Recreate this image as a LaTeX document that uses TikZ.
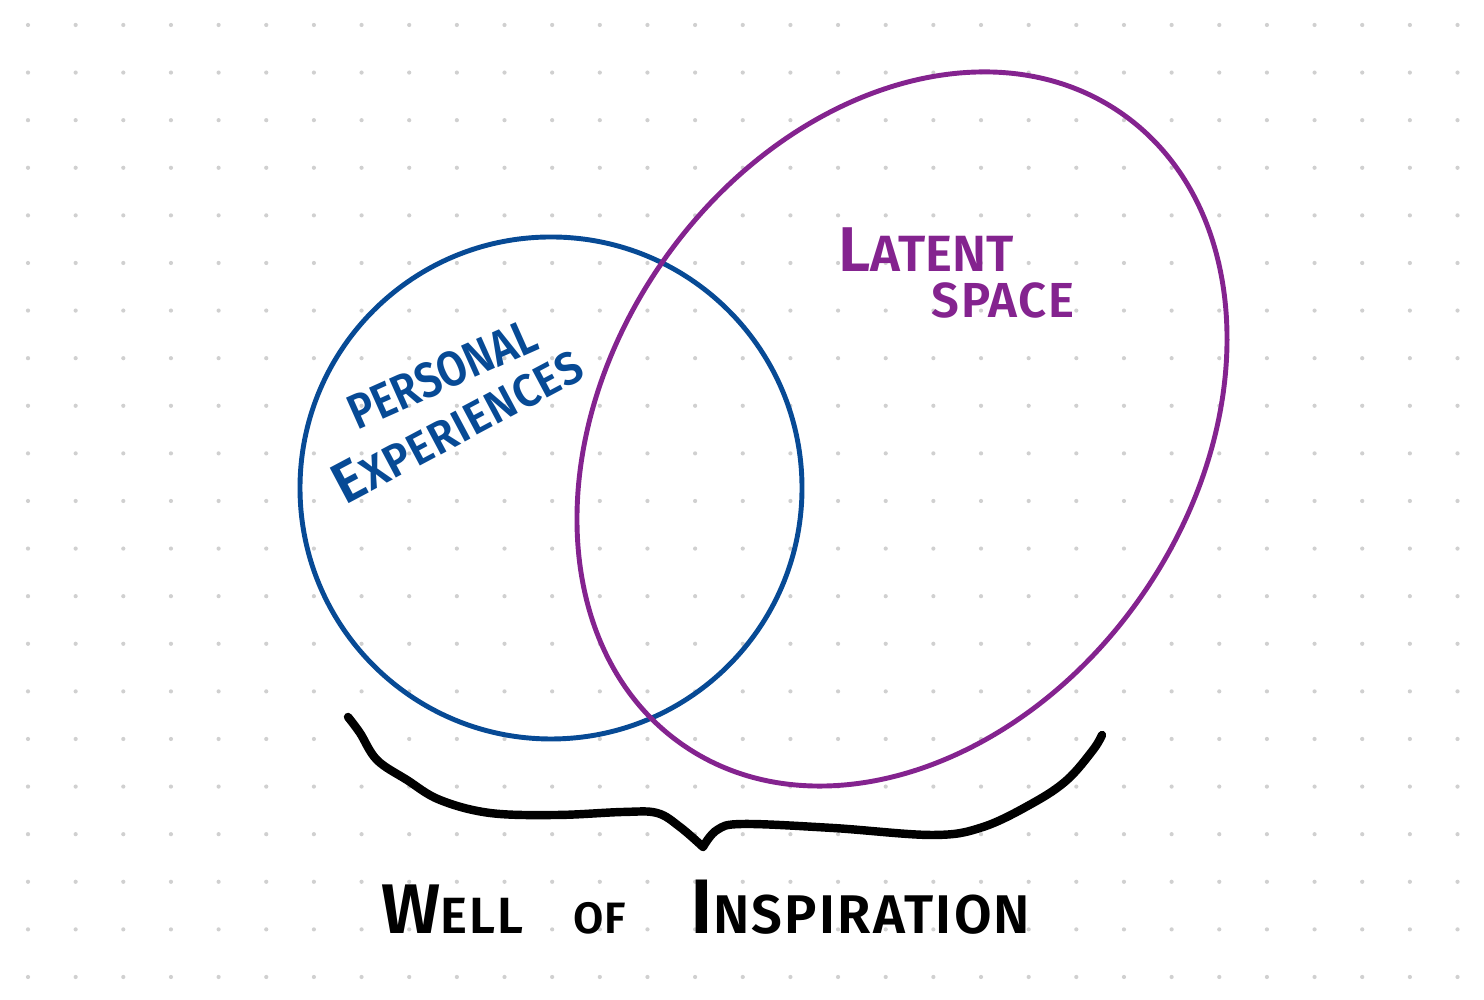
\documentclass[tikz,border=0pt]{standalone}
\usepackage{fontspec}
\setmainfont{Fira Sans}[BoldFont={Fira Sans SemiBold}]
\usepackage{xcolor}
\usepackage{graphicx}
\usepackage{tikz}
\definecolor{VennBlue}{HTML}{074A95}
\definecolor{VennPurple}{HTML}{84238F}
\definecolor{VennDot}{HTML}{D0D0D0}
\newcommand{\fs}[1]{\fontsize{#1}{#1}\selectfont}
\tikzset{
  handtext/.style={inner sep=0pt,font=\bfseries},
  vennline/.style={line width=1.4pt}
}

\begin{document}
\begin{tikzpicture}[x=1cm,y=1cm]
\path[use as bounding box] (0,0) rectangle (14.84,10.00);
\foreach \i in {0,...,30}
  \foreach \j in {0,...,20}
    \fill[VennDot] ({0.28+0.4765*\i},{9.75-0.476*\j}) circle (0.021);
\draw[VennBlue,vennline] (5.51,5.12) circle (2.51);
\draw[VennPurple,vennline,rotate around={55.2:(9.02,5.71)}] (9.02,5.71) ellipse [x radius=3.845,y radius=2.92];
\node[handtext,VennBlue,rotate=24] (personal) at (4.42,6.26) {\scalebox{0.86}[1]{\fs{14}PERSONAL}};
\node[handtext,VennBlue,rotate=28] (experiences) at (4.57,5.76) {\scalebox{0.95}[1]{{\fs{16.5}E}{\fs{13}\addfontfeature{LetterSpace=2}XPERIENCES}}};
\node[handtext,VennPurple] (latent) at (9.26,7.50) {{\fs{18}L}{\fs{14.5}ATENT}};
\node[handtext,VennPurple] (space) at (10.03,7.00) {\fs{14}\addfontfeature{LetterSpace=3}SPACE};
\draw[line width=2.4pt,line cap=round,line join=round]
  plot[smooth,tension=0.6] coordinates {(3.48,2.83) (3.60,2.67) (3.77,2.40) (4.07,2.20) (4.40,2.00) (4.90,1.87) (5.57,1.85) (6.23,1.88) (6.57,1.87) (6.80,1.73) (7.03,1.53)}
  plot[smooth,tension=0.6] coordinates {(7.03,1.53) (7.17,1.70) (7.43,1.76) (8.33,1.72) (9.33,1.65) (9.83,1.73) (10.33,1.97) (10.67,2.20) (10.93,2.50) (11.02,2.65)};
\node[handtext,anchor=base] (well) at (7.06,0.66) {{\fs{20}W}{\fs{14.5}\addfontfeature{LetterSpace=4}ELL}\hspace{0.5cm}{\fs{12.5}OF}\hspace{0.65cm}{\fs{22}I}{\fs{15.5}\addfontfeature{LetterSpace=4}NSPIRATION}};
\end{tikzpicture}
\end{document}
